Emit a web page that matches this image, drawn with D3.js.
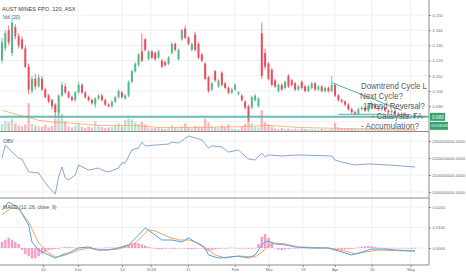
<!DOCTYPE html>
<html>
<head>
<meta charset="utf-8">
<script src="https://cdn.jsdelivr.net/npm/d3@7"></script>
<style>
    body { margin: 0; background: #fff; }
    svg { display: block; font-family: "Liberation Sans", Arial, sans-serif; }
    .grid line { stroke: #edf0f3; stroke-width: 1; }
    .axis text { fill: #6a6a6a; font-size: 4.1px; }
    .axis line { stroke: #8a8a8a; }
    .axis path { display: none; }
    .note { fill: #5a5a5a; font-size: 8.6px; }
</style>
</head>
<body>
<svg id="chart" width="466" height="275"></svg>
<script>
    // candles: [open, high, low, close], one per 120 min bar (thinned)
    const ohlc = [
        [0.120,0.135,0.118,0.132],[0.128,0.140,0.126,0.138],[0.140,0.143,0.130,0.132],[0.125,0.147,0.123,0.145],
        [0.142,0.144,0.134,0.136],[0.136,0.138,0.128,0.130],[0.134,0.136,0.127,0.128],[0.128,0.130,0.115,0.116],
        [0.116,0.118,0.098,0.101],[0.100,0.110,0.098,0.108],[0.108,0.111,0.101,0.103],[0.103,0.111,0.102,0.109],
        [0.108,0.110,0.100,0.101],[0.101,0.102,0.095,0.096],[0.097,0.098,0.092,0.093],[0.094,0.095,0.088,0.090],
        [0.091,0.092,0.082,0.086],[0.086,0.098,0.084,0.097],[0.097,0.106,0.096,0.104],[0.103,0.105,0.098,0.099],
        [0.099,0.100,0.095,0.096],[0.096,0.097,0.093,0.094],[0.094,0.100,0.093,0.099],[0.099,0.106,0.098,0.104],
        [0.104,0.105,0.098,0.099],[0.099,0.100,0.095,0.096],[0.096,0.097,0.093,0.094],[0.094,0.095,0.091,0.092],
        [0.091,0.096,0.089,0.095],[0.095,0.098,0.094,0.097],[0.097,0.098,0.093,0.094],[0.094,0.095,0.090,0.091],
        [0.091,0.092,0.089,0.090],[0.090,0.094,0.089,0.093],[0.093,0.097,0.092,0.096],[0.096,0.101,0.095,0.100],
        [0.099,0.100,0.095,0.096],[0.095,0.098,0.094,0.097],[0.097,0.107,0.096,0.106],[0.106,0.114,0.105,0.113],
        [0.113,0.119,0.112,0.118],[0.117,0.125,0.116,0.124],[0.126,0.138,0.119,0.120],[0.134,0.135,0.126,0.127],
        [0.121,0.127,0.120,0.126],[0.126,0.127,0.121,0.122],[0.125,0.126,0.120,0.121],[0.122,0.127,0.121,0.126],
        [0.120,0.121,0.115,0.116],[0.119,0.120,0.116,0.117],[0.118,0.123,0.117,0.122],[0.125,0.132,0.124,0.131],
        [0.131,0.132,0.126,0.127],[0.121,0.128,0.120,0.127],[0.134,0.141,0.133,0.140],[0.141,0.143,0.134,0.135],
        [0.135,0.136,0.130,0.131],[0.127,0.132,0.126,0.131],[0.137,0.139,0.126,0.127],[0.131,0.132,0.121,0.122],
        [0.124,0.125,0.119,0.120],[0.118,0.119,0.107,0.108],[0.109,0.110,0.099,0.100],[0.101,0.106,0.100,0.105],
        [0.113,0.114,0.106,0.107],[0.103,0.108,0.102,0.107],[0.112,0.113,0.103,0.104],[0.105,0.106,0.101,0.102],
        [0.102,0.103,0.098,0.099],[0.099,0.102,0.098,0.101],[0.101,0.105,0.100,0.104],[0.098,0.100,0.097,0.099],
        [0.097,0.098,0.093,0.094],[0.093,0.094,0.088,0.089],[0.090,0.091,0.080,0.082],[0.089,0.097,0.088,0.096],
        [0.094,0.098,0.093,0.097],[0.090,0.096,0.089,0.095],[0.138,0.145,0.108,0.110],[0.125,0.128,0.114,0.116],
        [0.118,0.119,0.107,0.108],[0.114,0.115,0.103,0.104],[0.107,0.108,0.102,0.103],[0.100,0.105,0.099,0.104],
        [0.104,0.105,0.100,0.101],[0.102,0.107,0.101,0.106],[0.110,0.111,0.102,0.103],[0.107,0.108,0.103,0.104],
        [0.105,0.106,0.100,0.101],[0.101,0.104,0.100,0.103],[0.106,0.107,0.101,0.102],[0.103,0.104,0.099,0.100],
        [0.100,0.104,0.099,0.103],[0.102,0.106,0.101,0.105],[0.105,0.106,0.100,0.101],[0.101,0.104,0.100,0.103],
        [0.103,0.104,0.099,0.100],[0.100,0.103,0.099,0.102],[0.102,0.103,0.099,0.100],[0.100,0.110,0.099,0.104],
        [0.104,0.105,0.096,0.097],[0.097,0.098,0.093,0.094],[0.094,0.095,0.092,0.093],[0.093,0.094,0.090,0.091],
        [0.091,0.092,0.087,0.088],[0.088,0.089,0.085,0.086],[0.086,0.087,0.084,0.085],[0.085,0.089,0.084,0.088],
        [0.088,0.090,0.087,0.089],[0.089,0.090,0.086,0.087],[0.087,0.092,0.086,0.091],[0.089,0.093,0.088,0.092],
        [0.091,0.092,0.088,0.089],[0.089,0.090,0.087,0.088],[0.088,0.090,0.087,0.089],[0.089,0.090,0.086,0.087],
        [0.087,0.088,0.085,0.086],[0.086,0.088,0.085,0.087],[0.087,0.088,0.084,0.085],[0.085,0.086,0.083,0.084],
        [0.084,0.086,0.083,0.085],[0.085,0.086,0.083,0.084],[0.084,0.085,0.082,0.083],[0.083,0.084,0.082,0.083],
        [0.084,0.085,0.082,0.083]
    ];

    // volume in millions
    const volumes = [
        1.5,2.0,1.8,2.5,1.6, 1.2,1.0,1.4,5.6,1.5, 1.2,1.0,0.9,1.3,0.8,1.1, 2.5,4.2,3.5,2.0,
        1.0,0.8,1.2,1.5,0.9,0.7,1.0,0.8, 2.0,1.2,0.9,0.7,0.8,1.0,1.3,1.6, 1.0,2.2,2.6,2.4,1.8,1.5,1.9,1.4,
        0.8,0.6,0.7,0.9,0.6,0.5,0.8,1.2,0.7,0.6,1.0,1.6, 0.8,0.7,1.1,1.0,0.9,2.6,1.8,1.0,
        0.8,0.7,1.2,0.9,1.4,0.6,0.5,0.4,0.9,1.5, 3.2,1.6,0.9,0.8, 4.2,1.8,1.4,1.0,
        0.6,0.5,0.7,0.5,0.6,0.4,0.5,0.4,0.6,0.5,0.4,0.5,0.4,0.3,0.5,0.4,0.3,0.6,
        1.7,0.8,0.6,0.5,0.7,0.6,0.5,0.5,0.6,0.4,0.5,0.6,0.4,0.4,0.5,0.3,0.4,0.3,0.4,0.3,0.3,0.4,0.3,0.3,0.3
    ];

    // Vol (20) moving average, [bar, value]
    const volMa = [[0,4.2],[2,3.8],[5,3.2],[8,2.8],[11,2.2],[16,1.8],[22,1.6],[29,1.2],[39,1.2],
        [47,0.8],[59,0.8],[74,1.0],[80,1.2],[89,0.8],[101,0.6],[124,0.4]];

    // OBV, [bar, value]
    const obvPts = [[0,2.200e9],[1,2.276e9],[3,2.235e9],[5,2.200e9],[6,2.194e9],[8,2.118e9],[11,2.112e9],
        [12,2.082e9],[14,2.029e9],[16,1.988e9],[17,2.088e9],[18,2.147e9],[19,2.082e9],[20,2.071e9],
        [22,2.100e9],[23,2.159e9],[26,2.129e9],[29,2.141e9],[30,2.129e9],[32,2.118e9],[35,2.141e9],
        [36,2.171e9],[37,2.171e9],[39,2.247e9],[41,2.259e9],[42,2.294e9],[43,2.271e9],[46,2.276e9],
        [50,2.282e9],[51,2.294e9],[53,2.288e9],[56,2.329e9],[58,2.318e9],[60,2.306e9],[62,2.259e9],
        [63,2.271e9],[66,2.265e9],[68,2.235e9],[71,2.247e9],[72,2.229e9],[74,2.194e9],[76,2.188e9],
        [78,2.229e9],[79,2.206e9],[80,2.218e9],[84,2.212e9],[89,2.218e9],[99,2.212e9],[100,2.188e9],
        [102,2.176e9],[106,2.159e9],[110,2.165e9],[116,2.159e9],[124,2.147e9]];

    // MACD (12, 26, close, 9)
    const macdPts = [[0,0.0185],[2,0.0224],[5,0.0195],[8,0.0112],[9,0.0029],[11,-0.0010],[14,-0.0034],
        [16,-0.0049],[18,-0.0034],[20,-0.0024],[23,0],[26,0.0005],[29,-0.0010],[32,-0.0010],[35,0],
        [38,0.0015],[41,0.0063],[43,0.0098],[46,0.0063],[48,0.0039],[51,0.0039],[54,0.0029],[56,0.0049],
        [58,0.0029],[61,0],[62,-0.0034],[65,-0.0049],[68,-0.0044],[71,-0.0040],[74,-0.0049],[76,-0.0034],
        [78,0.0015],[79,0.0029],[80,0.0034],[82,0.0020],[85,0.0015],[88,0.0005],[93,0],[98,0],
        [101,-0.0015],[105,-0.0034],[108,-0.0020],[111,-0.0005],[115,-0.0005],[118,-0.0010],[124,-0.0015]];
    const signalPts = [[0,0.0161],[3,0.0200],[5,0.0190],[8,0.0127],[11,0.0024],[14,-0.0024],[16,-0.0044],
        [18,-0.0039],[20,-0.0029],[23,-0.0010],[26,0],[29,-0.0010],[35,-0.0005],[40,0.0024],[44,0.0088],
        [46,0.0083],[50,0.0054],[53,0.0039],[56,0.0039],[59,0.0024],[62,-0.0010],[64,-0.0034],[67,-0.0049],
        [71,-0.0039],[76,-0.0044],[78,-0.0020],[80,0.0010],[82,0.0024],[85,0.0020],[89,0.0005],[98,0],
        [103,-0.0015],[106,-0.0029],[109,-0.0020],[113,-0.0010],[124,-0.0015]];
    const macdHist = [
        0.003,0.004,0.005,0.004,0.003,0.002,
        -0.001,-0.003,-0.004,-0.005,-0.005,-0.004,-0.003,-0.002,
        -0.001,-0.0008,-0.0005,-0.0003,0.0003,0.0005,0.0006,0.0004,0.0002,0.0003,0.0005,0.0004,0.0002,
        -0.0002,-0.0003,-0.0002,0.0001,0.0002,0.0003,0.0002,0.0003,0.0005,
        0.0008,0.0012,0.0018,0.0022,0.0025,0.0023,0.0018,0.0012,0.0006,0.0002,
        -0.0004,-0.0006,-0.0005,-0.0003,-0.0002,-0.0003,-0.0004,-0.0002,-0.0001,-0.0003,-0.0005,-0.0006,-0.0004,-0.0003,-0.0002,
        -0.0008,-0.0012,-0.001,-0.0007,-0.0004,-0.0002,-0.0001,0.0001,0.0002,0.0001,-0.0001,-0.0002,-0.0003,-0.0004,-0.0002,0.0001,
        0.002,0.0055,0.0068,0.005,0.003,
        -0.0003,-0.0008,-0.001,-0.0007,-0.0005,-0.0003,-0.0002,-0.0001,0.0001,
        0.0002,0.0001,0.0002,0.0001,-0.0001,0.0001,0.0002,0.0001,-0.0002,-0.0004,
        -0.0006,-0.0008,-0.0008,-0.0007,-0.0005,-0.0003,0.0003,0.0006,0.0009,0.001,
        0.0008,0.0005,0.0002,0.0001,-0.0001,-0.0001,0.0001,0.0001,-0.0001,-0.0001,
        0.0001,-0.0001,-0.0001,0.0001
    ];

    // drawings
    const supportLevel = 0.083;
    const shortLevel = [[101, 0.0847], [115, 0.0847]];
    const trendLine = [[99, 0.1055], [120, 0.0872]];

    // axes
    const timeTickIdx = [12.3, 22.8, 36, 44.7, 55.8, 69.9, 80.1, 90.3, 99.9, 111, 122.7];
    const timeTickLabels = ["20", "Dec", "10", "2018", "15", "Feb", "Mar", "19", "Apr", "16", "May"];
    const priceTicks = [0.090, 0.100, 0.110, 0.120, 0.130, 0.140, 0.150];
    const obvTicks = [2.0e9, 2.1e9, 2.2e9, 2.3e9];
    const macdTicks = [0, 0.01, 0.02];
    const lastPrice = "0.083";
    const countdown = "01:09:03";
    const notes = ["Downtrend Cycle L", "Next Cycle?", "1Trend Reversal?", "- Catalysts: FA-", "- Accumulation?"];

    const svg = d3.select("#chart");
    const axisX = 429;
    const mainBottom = 131.5, obvBottom = 198, macdBottom = 265;

    const x = d3.scaleLinear().domain([0, 124]).range([2, 415]);
    const yPrice = d3.scaleLinear().domain([0.09, 0.15]).range([106.2, 15]);
    const yVol = d3.scaleLinear().domain([0, 6]).range([mainBottom, 101]);
    const yObv = d3.scaleLinear().domain([2.0e9, 2.3e9]).range([192, 141]);
    const yMacd = d3.scaleLinear().domain([0, 0.02]).range([248, 207]);

    const up = "#53b987", down = "#eb4d5c";

    svg.append("defs").append("clipPath").attr("id", "plot")
        .append("rect").attr("x", 0).attr("y", 0).attr("width", axisX).attr("height", macdBottom);

    function drawGrid() {
        const grid = svg.append("g").attr("class", "grid");
        timeTickIdx.forEach(t => {
            grid.append("line").attr("x1", x(t)).attr("x2", x(t)).attr("y1", 0).attr("y2", macdBottom);
        });
        priceTicks.concat([0.08]).forEach(p => {
            grid.append("line").attr("x1", 0).attr("x2", axisX).attr("y1", yPrice(p)).attr("y2", yPrice(p));
        });
        obvTicks.forEach(v => {
            grid.append("line").attr("x1", 0).attr("x2", axisX).attr("y1", yObv(v)).attr("y2", yObv(v));
        });
        macdTicks.forEach(v => {
            grid.append("line").attr("x1", 0).attr("x2", axisX).attr("y1", yMacd(v)).attr("y2", yMacd(v));
        });
    }
    drawGrid();

    const plot = svg.append("g").attr("clip-path", "url(#plot)");

    // volume
    plot.append("g").selectAll("rect")
        .data(volumes)
        .enter()
        .append("rect")
        .attr("x", (d, i) => x(i) - 1.2)
        .attr("width", 2.4)
        .attr("y", d => yVol(d))
        .attr("height", d => mainBottom - yVol(d))
        .attr("fill", (d, i) => ohlc[i][3] >= ohlc[i][0] ? up : down)
        .attr("opacity", 0.4);

    plot.append("path")
        .datum(volMa)
        .attr("fill", "none")
        .attr("stroke", "#f4a46a")
        .attr("stroke-width", 0.8)
        .attr("d", d3.line().x(d => x(d[0])).y(d => yVol(d[1])));

    // candles
    const candles = plot.append("g").selectAll("g")
        .data(ohlc)
        .enter()
        .append("g")
        .attr("fill", d => d[3] >= d[0] ? up : down)
        .attr("stroke", d => d[3] >= d[0] ? up : down);

    candles.append("line")
        .attr("x1", (d, i) => x(i)).attr("x2", (d, i) => x(i))
        .attr("y1", d => yPrice(d[1])).attr("y2", d => yPrice(d[2]))
        .attr("stroke-width", 0.8);

    candles.append("rect")
        .attr("x", (d, i) => x(i) - 1)
        .attr("width", 2)
        .attr("y", d => yPrice(Math.max(d[0], d[3])))
        .attr("height", d => Math.max(1, Math.abs(yPrice(d[0]) - yPrice(d[3]))))
        .attr("stroke", "none");

    // user drawings
    plot.append("line")
        .attr("x1", 0).attr("x2", axisX)
        .attr("y1", yPrice(supportLevel)).attr("y2", yPrice(supportLevel))
        .attr("stroke", "#4fb3a3").attr("stroke-width", 2).attr("opacity", 0.85);
    plot.append("path")
        .datum(shortLevel)
        .attr("fill", "none").attr("stroke", "#4fb3a3").attr("stroke-width", 1)
        .attr("d", d3.line().x(d => x(d[0])).y(d => yPrice(d[1])));
    plot.append("path")
        .datum(trendLine)
        .attr("fill", "none").attr("stroke", "#4fb3a3").attr("stroke-width", 1)
        .attr("d", d3.line().x(d => x(d[0])).y(d => yPrice(d[1])));

    // OBV
    plot.append("path")
        .datum(obvPts)
        .attr("fill", "none")
        .attr("stroke", "#7f9cc9")
        .attr("stroke-width", 0.9)
        .attr("d", d3.line().x(d => x(d[0])).y(d => yObv(d[1])));

    // MACD
    plot.append("g").selectAll("rect")
        .data(macdHist)
        .enter()
        .append("rect")
        .attr("x", (d, i) => x(i) - 1.2)
        .attr("width", 2.4)
        .attr("y", d => yMacd(Math.max(0, d)))
        .attr("height", d => Math.max(0.6, Math.abs(yMacd(d) - yMacd(0))))
        .attr("fill", "#f27bb4")
        .attr("opacity", 0.75);

    plot.append("path")
        .datum(signalPts)
        .attr("fill", "none").attr("stroke", "#f5a25d").attr("stroke-width", 1)
        .attr("d", d3.line().x(d => x(d[0])).y(d => yMacd(d[1])));
    plot.append("path")
        .datum(macdPts)
        .attr("fill", "none").attr("stroke", "#4ea4e0").attr("stroke-width", 1)
        .attr("d", d3.line().x(d => x(d[0])).y(d => yMacd(d[1])));

    // notes, squeezed sideways to the widths seen in the picture
    const noteX = [361, 360, 363, 372, 361];
    const noteY = [89, 99, 109, 119, 129];
    const noteW = [66, 43, 62, 53, 58];
    const noteG = plot.append("g");
    notes.forEach((t, i) => {
        const txt = noteG.append("text").attr("class", "note").text(t);
        const w = txt.node().getComputedTextLength();
        txt.attr("transform", `translate(${noteX[i]},${noteY[i]}) scale(${noteW[i] / w},1)`);
    });

    // pane borders
    [mainBottom, obvBottom, macdBottom].forEach(y => {
        svg.append("line").attr("x1", 0).attr("x2", axisX).attr("y1", y).attr("y2", y)
            .attr("stroke", "#8c8c8c").attr("stroke-width", 1.2);
    });
    svg.append("line").attr("x1", axisX).attr("x2", axisX).attr("y1", 0).attr("y2", macdBottom)
        .attr("stroke", "#8c8c8c").attr("stroke-width", 1);

    // axes
    svg.append("g").attr("class", "axis").attr("transform", `translate(${axisX},0)`)
        .call(d3.axisRight(yPrice).tickValues(priceTicks).tickFormat(d3.format(".3f")).tickSize(2).tickPadding(1.5));
    svg.append("g").attr("class", "axis").attr("transform", `translate(${axisX},0)`)
        .call(d3.axisRight(yObv).tickValues(obvTicks).tickFormat(d3.format(".4f")).tickSize(2).tickPadding(1));
    svg.append("g").attr("class", "axis").attr("transform", `translate(${axisX},0)`)
        .call(d3.axisRight(yMacd).tickValues(macdTicks).tickFormat(d3.format(".4f")).tickSize(2).tickPadding(1.5));
    svg.append("g").attr("class", "axis").attr("transform", `translate(0,${macdBottom})`)
        .call(d3.axisBottom(x).tickValues(timeTickIdx).tickFormat((d, i) => timeTickLabels[i]).tickSize(2).tickPadding(1.5));

    // last price & countdown labels
    const lp = yPrice(+lastPrice);
    svg.append("rect").attr("x", axisX + 1).attr("y", lp - 4).attr("width", 15).attr("height", 8).attr("fill", "#37a36b");
    svg.append("text").attr("x", axisX + 3).attr("y", lp + 1.7).attr("fill", "#fff").attr("font-size", 4.6).text(lastPrice);
    svg.append("rect").attr("x", axisX + 1).attr("y", lp + 5).attr("width", 18).attr("height", 8).attr("fill", "#37a36b");
    svg.append("text").attr("x", axisX + 2.3).attr("y", lp + 10.6).attr("fill", "#fff").attr("font-size", 4.2).text(countdown);

    // pane titles
    svg.append("text").attr("x", 2).attr("y", 11).attr("fill", "#444").attr("font-size", 5.6).text("AUST MINES FPO, 120, ASX");
    svg.append("text").attr("x", 3).attr("y", 19).attr("fill", "#555").attr("font-size", 5).text("Vol (20)");
    svg.append("text").attr("x", 3).attr("y", 143).attr("fill", "#555").attr("font-size", 5).text("OBV");
    svg.append("text").attr("x", 3).attr("y", 209).attr("fill", "#555").attr("font-size", 5).text("MACD (12, 26, close, 9)");
</script>
</body>
</html>
